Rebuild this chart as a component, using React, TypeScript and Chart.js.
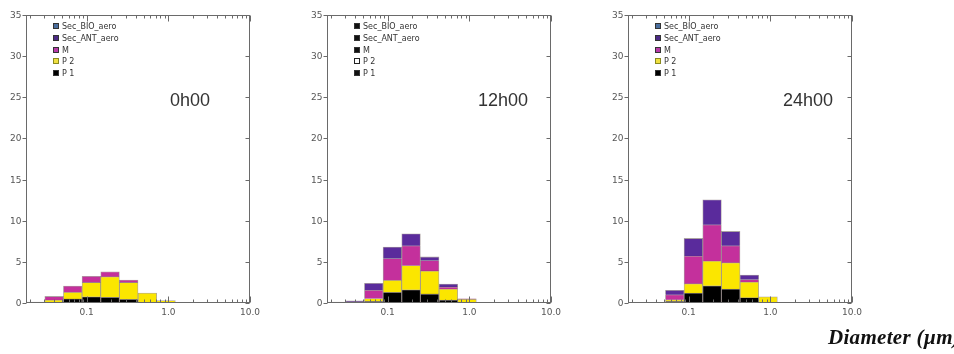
import React, { useEffect, useRef } from "react";
import { Chart, registerables } from "chart.js";

Chart.register(...registerables);

// Bin centre diameters (µm), log-spaced bins
const diameters = [0.0236, 0.04, 0.0676, 0.1143, 0.1936, 0.3273, 0.5543, 0.9376, 1.585, 2.68, 4.54, 7.68];

// Stack order bottom -> top
const seriesNames = ["P 1", "P 2", "M", "Sec_ANT_aero", "Sec_BIO_aero"];
const seriesColors = ["#000000", "#fbe600", "#c4309c", "#5a2b9c", "#4a6e9e"];

// 0h00
const p1_0h = [0.12, 0.05, 0.5, 0.75, 0.7, 0.45, 0.05, 0, 0, 0, 0, 0];
const p2_0h = [0, 0.3, 0.8, 1.75, 2.5, 2.05, 1.15, 0.3, 0, 0, 0, 0];
const m_0h = [0, 0.45, 0.75, 0.75, 0.6, 0.3, 0, 0, 0, 0, 0, 0];
const ant_0h = [0, 0, 0, 0, 0, 0, 0, 0, 0, 0, 0, 0];
const bio_0h = [0, 0, 0, 0, 0, 0, 0, 0, 0, 0, 0, 0];

// 12h00
const p1_12h = [0.05, 0.05, 0.2, 1.3, 1.6, 1.1, 0.35, 0, 0, 0, 0, 0];
const p2_12h = [0, 0, 0.35, 1.45, 2.95, 2.8, 1.35, 0.45, 0, 0, 0, 0];
const m_12h = [0, 0, 1.0, 2.65, 2.4, 1.25, 0.25, 0.05, 0, 0, 0, 0];
const ant_12h = [0.05, 0.2, 0.85, 1.4, 1.45, 0.45, 0.35, 0, 0, 0, 0, 0];
const bio_12h = [0, 0, 0, 0, 0, 0, 0, 0, 0, 0, 0, 0];

// 24h00
const p1_24h = [0, 0.03, 0.2, 1.2, 2.1, 1.7, 0.65, 0.05, 0, 0, 0, 0];
const p2_24h = [0, 0, 0.2, 1.15, 3.0, 3.2, 1.9, 0.7, 0, 0, 0, 0];
const m_24h = [0, 0, 0.6, 3.35, 4.4, 2.05, 0.3, 0, 0, 0, 0, 0];
const ant_24h = [0, 0, 0.55, 2.15, 3.05, 1.75, 0.55, 0, 0, 0, 0, 0];
const bio_24h = [0, 0, 0, 0, 0, 0, 0, 0, 0, 0, 0, 0];

const yTicks = [0, 5, 10, 15, 20, 25, 30, 35];
const xTickValues = [0.1, 1, 10];
const xTickLabels = ["0.1", "1.0", "10.0"];

// Legend (top -> bottom)
const legendNames = ["Sec_BIO_aero", "Sec_ANT_aero", "M", "P 2", "P 1"];
const legendColorsColour = ["#4a6e9e", "#4b2a85", "#b83aa8", "#f0e040", "#000000"];
const legendColorsBlack = ["#111111", "#111111", "#111111", "#ffffff", "#111111"];

const X_MIN = 0.0181;
const X_MAX = 10;

const panels = [
  { time: "0h00", series: [p1_0h, p2_0h, m_0h, ant_0h, bio_0h], legend: legendColorsColour, timeX: 190 },
  { time: "12h00", series: [p1_12h, p2_12h, m_12h, ant_12h, bio_12h], legend: legendColorsBlack, timeX: 503 },
  { time: "24h00", series: [p1_24h, p2_24h, m_24h, ant_24h, bio_24h], legend: legendColorsColour, timeX: 808 },
];

const minorTicks: number[] = [];
[0.01, 0.1, 1].forEach((d) => {
  for (let m = 2; m <= 9; m++) {
    const v = d * m;
    if (v > X_MIN && v < X_MAX) minorTicks.push(v);
  }
});

const framePlugin = {
  id: "frame",
  afterDatasetsDraw(chart: any, _args: any, opts: any) {
    const { ctx, chartArea: a, scales } = chart;
    const x = scales.x;
    const y = scales.y;
    const L = Math.round(a.left) + 0.5;
    const R = Math.round(a.right) - 0.5;
    const T = Math.round(a.top) + 0.5;
    const B = Math.round(a.bottom) - 0.5;
    ctx.save();
    ctx.strokeStyle = "#6a6a6a";
    ctx.lineWidth = 1;
    ctx.strokeRect(L, T, R - L, B - T);

    // y ticks & labels
    ctx.fillStyle = "#555";
    ctx.font = "9px 'DejaVu Sans'";
    ctx.textAlign = "right";
    ctx.textBaseline = "middle";
    yTicks.forEach((v) => {
      const py = Math.round(y.getPixelForValue(v)) + 0.5;
      ctx.beginPath();
      ctx.moveTo(L - 4, py);
      ctx.lineTo(L, py);
      ctx.moveTo(R - 4, py);
      ctx.lineTo(R, py);
      ctx.stroke();
      ctx.fillText(String(v), L - 5, py);
    });

    // x ticks
    const drawX = (v: number, len: number) => {
      const px = Math.round(x.getPixelForValue(v)) + 0.5;
      ctx.beginPath();
      ctx.moveTo(px, B);
      ctx.lineTo(px, B - len);
      ctx.moveTo(px, T);
      ctx.lineTo(px, T + len);
      ctx.stroke();
    };
    minorTicks.forEach((v) => drawX(v, 3));
    xTickValues.forEach((v) => drawX(v, 6));

    ctx.textAlign = "center";
    ctx.textBaseline = "middle";
    xTickValues.forEach((v, i) => {
      const px = x.getPixelForValue(v);
      ctx.fillText(xTickLabels[i], px, B + 10);
    });

    // legend
    const colors: string[] = opts.legendColors;
    ctx.font = "8px 'DejaVu Sans'";
    ctx.textAlign = "left";
    ctx.fillStyle = "#333";
    legendNames.forEach((name, i) => {
      const cy = Math.round(a.top + 11 + i * 11.8);
      const sx = Math.round(a.left + 27);
      ctx.fillStyle = colors[i];
      ctx.fillRect(sx, cy - 3, 6, 6);
      ctx.strokeStyle = colors[i] === "#ffffff" ? "#222" : colors[i] === "#f0e040" ? "#8a8a20" : "#333";
      ctx.strokeRect(sx + 0.5, cy - 2.5, 5, 5);
      ctx.fillStyle = "#333";
      ctx.fillText(name, a.left + 36, cy + 0.5);
    });
    ctx.restore();
  },
};

function Panel({ idx }: { idx: number }) {
  const ref = useRef<HTMLCanvasElement>(null);
  useEffect(() => {
    const panel = panels[idx];
    const datasets = seriesNames.map((name, s) => ({
      label: name,
      data: diameters.map((d, k) => ({ x: d, y: panel.series[s][k] > 0 ? panel.series[s][k] : null })),
      backgroundColor: seriesColors[s],
      borderColor: "rgba(70,50,50,0.45)",
      borderWidth: 0.8,
      barPercentage: 1,
      categoryPercentage: 1,
      skipNull: true,
    }));
    const chart = new Chart(ref.current as HTMLCanvasElement, {
      type: "bar",
      data: { datasets } as any,
      options: {
        responsive: false,
        animation: false,
        devicePixelRatio: 1,
        layout: { padding: { left: 26, right: 51, top: 15, bottom: 51 } },
        plugins: {
          legend: { display: false },
          tooltip: { enabled: false },
          frame: { legendColors: panel.legend },
        } as any,
        scales: {
          x: { type: "logarithmic", min: X_MIN, max: X_MAX, stacked: true, display: false },
          y: { type: "linear", min: 0, max: 35, stacked: true, display: false },
        },
      },
      plugins: [framePlugin],
    });
    return () => chart.destroy();
  }, [idx]);
  return (
    <canvas
      ref={ref}
      width={301}
      height={354}
      style={{ position: "absolute", left: idx * 301, top: 0, width: 301, height: 354 }}
    />
  );
}

export default function App() {
  return (
    <div
      style={{
        position: "fixed",
        left: 0,
        top: 0,
        width: 954,
        height: 354,
        background: "#ffffff",
        overflow: "hidden",
      }}
    >
      {panels.map((p, i) => (
        <Panel key={i} idx={i} />
      ))}
      {panels.map((p, i) => (
        <div
          key={"t" + i}
          style={{
            position: "absolute",
            left: p.timeX - 50,
            top: 91,
            width: 100,
            textAlign: "center",
            font: "18px 'Liberation Sans', Arial, sans-serif",
            lineHeight: "18px",
            color: "#333",
          }}
        >
          {p.time}
        </div>
      ))}
      <div
        style={{
          position: "absolute",
          left: 828,
          top: 327,
          whiteSpace: "nowrap",
          font: "italic bold 21px 'Liberation Serif', 'Times New Roman', serif",
          lineHeight: "21px",
          letterSpacing: "0.3px",
          color: "#111",
        }}
      >
        Diameter (µm)
      </div>
    </div>
  );
}
